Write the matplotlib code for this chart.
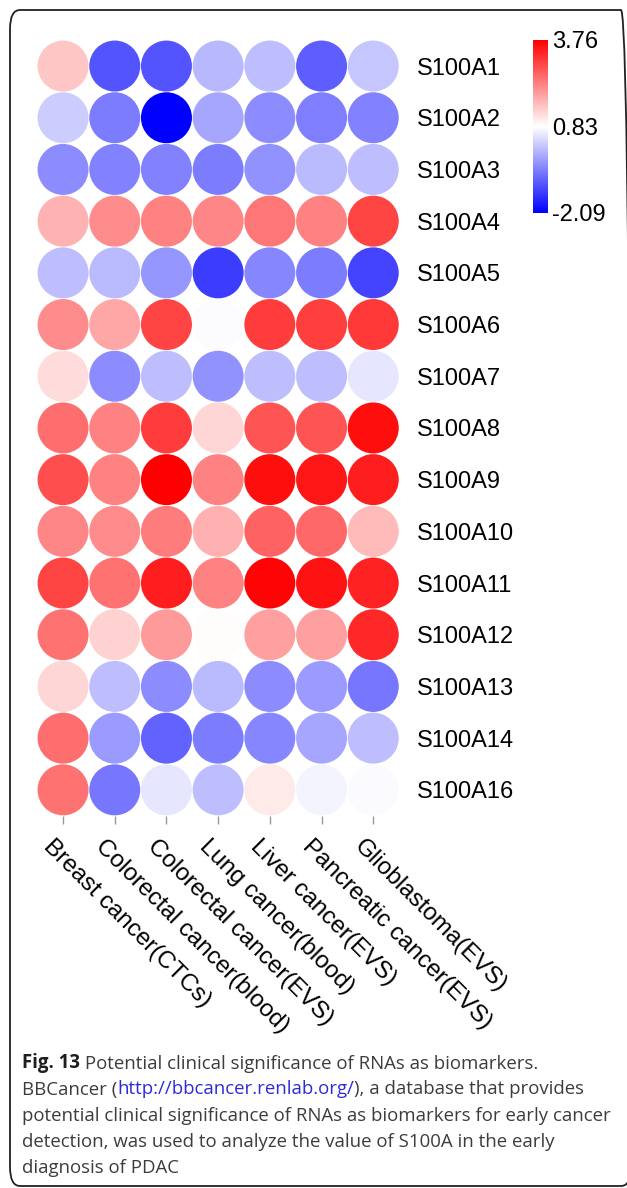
import numpy as np
import matplotlib
matplotlib.use('Agg')
import matplotlib.pyplot as plt
from matplotlib.colors import LinearSegmentedColormap, Normalize
from matplotlib.patches import FancyBboxPatch
from matplotlib.transforms import blended_transform_factory, ScaledTranslation

# expression of S100A family in the BBCancer datasets
genes = ['S100A1', 'S100A2', 'S100A3', 'S100A4', 'S100A5', 'S100A6', 'S100A7',
         'S100A8', 'S100A9', 'S100A10', 'S100A11', 'S100A12', 'S100A13',
         'S100A14', 'S100A16']
cancers = ['Breast cancer(CTCs)', 'Colorectal cancer(blood)',
           'Colorectal cancer(EVS)', 'Lung cancer(blood)', 'Liver cancer(EVS)',
           'Pancreatic cancer(EVS)', 'Glioblastoma(EVS)']

s100a1 = [1.48, -1.12, -1.12, 0.02, 0.10, -1.01, 0.19]
s100a2 = [0.25, -0.66, -2.09, -0.19, -0.48, -0.63, -0.60]
s100a3 = [-0.48, -0.60, -0.60, -0.66, -0.42, 0.05, 0.10]
s100a4 = [1.71, 2.15, 2.27, 2.21, 2.39, 2.27, 2.97]
s100a5 = [0.10, 0.05, -0.36, -1.39, -0.54, -0.66, -1.30]
s100a6 = [2.15, 1.86, 2.97, 0.80, 3.06, 3.03, 3.12]
s100a7 = [1.24, -0.48, 0.10, -0.42, 0.10, 0.10, 0.54]
s100a8 = [2.50, 2.27, 3.06, 1.30, 2.80, 2.80, 3.58]
s100a9 = [2.85, 2.27, 3.76, 2.27, 3.60, 3.50, 3.41]
s100a10 = [2.21, 2.15, 2.33, 1.74, 2.62, 2.56, 1.62]
s100a11 = [2.97, 2.44, 3.41, 2.27, 3.70, 3.55, 3.35]
s100a12 = [2.44, 1.36, 1.98, 0.86, 1.92, 1.92, 3.29]
s100a13 = [1.30, 0.10, -0.48, 0.05, -0.48, -0.31, -0.72]
s100a14 = [2.50, -0.31, -0.95, -0.66, -0.54, -0.19, 0.10]
s100a16 = [2.44, -0.72, 0.54, 0.10, 1.07, 0.72, 0.78]

vmin, vmax = -2.09, 3.76
cbar_labels = ['-2.09', '0.83', '3.76']

values = np.array([s100a1, s100a2, s100a3, s100a4, s100a5, s100a6, s100a7,
                   s100a8, s100a9, s100a10, s100a11, s100a12, s100a13,
                   s100a14, s100a16])

W, H, DPI = 627, 1188, 100
fig = plt.figure(figsize=(W / DPI, H / DPI), dpi=DPI)

def px(x, y, w, h):
    # pixel box (from top-left) -> figure fraction
    return [x / W, 1 - (y + h) / H, w / W, h / H]

cell = 51.7
ax = fig.add_axes(px(37.2, 40.2, 7 * cell, 15 * cell))

cmap = LinearSegmentedColormap.from_list('bwr2', ['#0000ff', '#ffffff', '#ff0000'])
norm = Normalize(vmin=vmin, vmax=vmax)

nr, nc = values.shape
xx, yy = np.meshgrid(np.arange(nc), np.arange(nr))
diam = 51.0 * 72 / DPI
sc = ax.scatter(xx.ravel(), yy.ravel(), c=values.ravel(), cmap=cmap, norm=norm,
                s=diam ** 2, linewidths=0)

ax.set_xlim(-0.5, nc - 0.5)
ax.set_ylim(nr - 0.5, -0.5)
for sp in ax.spines.values():
    sp.set_visible(False)

ax.yaxis.tick_right()
ax.set_yticks(range(nr))
ax.set_yticklabels(genes, fontsize=17, family='Liberation Sans')
ax.tick_params(axis='y', length=0, pad=13)

ax.set_xticks(range(nc))
ax.set_xticklabels([])
ax.tick_params(axis='x', length=5.5, width=1.0, color='#999999', pad=0)

# rotated column names hanging below the ticks
trans = blended_transform_factory(ax.transData, ax.transAxes) + \
    ScaledTranslation(-8 / DPI, -20 / DPI, fig.dpi_scale_trans)
for i, name in enumerate(cancers):
    ax.text(i, 0, name, transform=trans, rotation=-45, rotation_mode='anchor',
            ha='left', va='top', fontsize=17.5, family='Liberation Sans')

# colour key
cax = fig.add_axes(px(533, 40, 15, 173))
cb = fig.colorbar(sc, cax=cax, ticks=[vmin, (vmin + vmax) / 2, vmax])
cb.ax.set_yticklabels(cbar_labels, fontsize=17, family='Liberation Sans')
cb.ax.tick_params(length=0, pad=3)
cb.outline.set_visible(False)

# rounded frame, right side runs off the page
frame = FancyBboxPatch((10 / W, 1 - 1186 / H), 621 / W, 1176 / H,
                       boxstyle='round,pad=0,rounding_size=0.016',
                       transform=fig.transFigure, fill=False,
                       edgecolor='#222222', linewidth=1.3)
fig.patches.append(frame)

# caption
cap = dict(fontsize=13.4, family='Open Sans', color='#3c3c3c')
lines = [
    [('Fig. 13', 'bold', '#1e1e1e'),
     (' Potential clinical significance of RNAs as biomarkers.', 'normal', None)],
    [('BBCancer (', 'normal', None),
     ('http://bbcancer.renlab.org/', 'normal', '#2b2bdc'),
     ('), a database that provides', 'normal', None)],
    [('potential clinical significance of RNAs as biomarkers for early cancer', 'normal', None)],
    [('detection, was used to analyze the value of S100A in the early', 'normal', None)],
    [('diagnosis of PDAC', 'normal', None)],
]
base = [1068, 1094.5, 1121, 1147, 1173]
for yb, parts in zip(base, lines):
    prev = None
    for txt, wt, col in parts:
        kw = dict(cap)
        kw['fontweight'] = wt
        if col:
            kw['color'] = col
        if prev is None:
            prev = fig.text(22 / W, 1 - yb / H, txt, va='baseline', ha='left', **kw)
        else:
            prev = plt.annotate(txt, xy=(1, 0), xycoords=prev, va='bottom',
                                ha='left', annotation_clip=False, **kw)

fig.savefig('out.png', dpi=DPI)
